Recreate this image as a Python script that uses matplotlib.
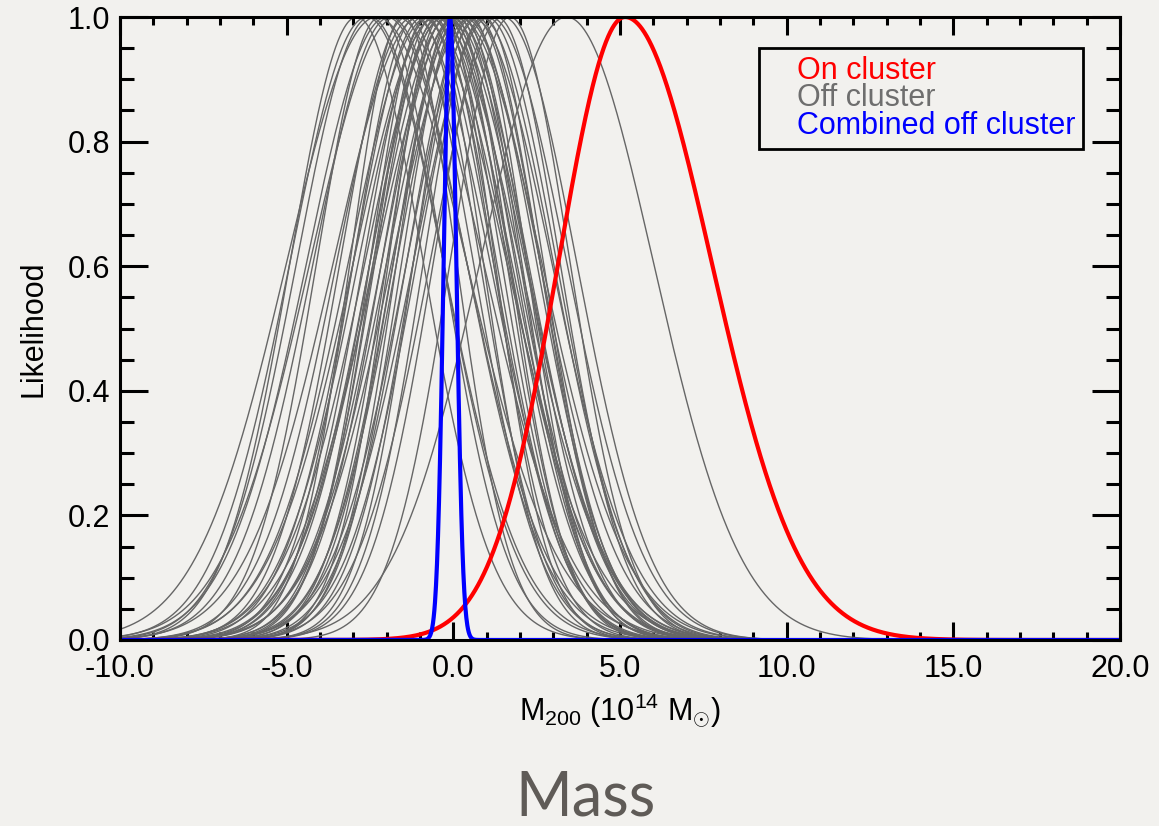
import numpy as np
import matplotlib.pyplot as plt
from matplotlib.lines import Line2D
from matplotlib.ticker import MultipleLocator, FormatStrFormatter

plt.rcParams['font.family'] = ['Liberation Sans', 'DejaVu Sans']
plt.rcParams['mathtext.fontset'] = 'custom'
plt.rcParams['mathtext.rm'] = 'Liberation Sans'
plt.rcParams['mathtext.it'] = 'Liberation Sans:italic'

# Off-cluster likelihoods: peak position and width (10^14 Msun)
off_mean = [-2.3, -2.6, -2.9, -2.5, -2.2, -2.0, -1.9, -1.7, -1.5, -1.4, -1.2, -1.1,
            -1.0, -0.9, -0.8, -0.75, -0.7, -0.6, -0.55, -0.5, -0.45, -0.4, -0.35, -0.3,
            -0.25, -0.2, -0.15, -0.1, 0.0, 0.05, 0.1, 0.15, 0.2, 0.25, 0.3, 0.4,
            0.5, 0.55, 0.6, 0.7, 0.8, 0.9, 1.0, 1.1, 1.3, 1.5, 1.7, 3.4]
off_sigma = [2.7, 2.3, 2.0, 2.2, 1.9, 2.4, 2.3, 2.6, 1.6, 2.0, 2.3, 1.9,
             2.6, 2.1, 1.7, 2.4, 2.0, 1.8, 2.3, 2.5, 1.9, 2.1, 1.6, 2.2,
             2.4, 1.8, 2.0, 2.3, 1.7, 2.2, 1.9, 2.5, 2.0, 1.8, 2.3, 2.1,
             1.7, 2.4, 2.0, 1.9, 2.2, 1.8, 2.1, 2.3, 1.9, 2.2, 1.8, 2.6]

# On-cluster likelihood (slightly skewed) and combined off-cluster likelihood
on_mean = 5.15
on_sigma_left = 2.0
on_sigma_right = 2.6
comb_mean = -0.1
comb_sigma = 0.19

x_range = (-10.0, 20.0)
x_ticks = [-10.0, -5.0, 0.0, 5.0, 10.0, 15.0, 20.0]
legend_labels = ['On cluster', 'Off cluster', 'Combined off cluster']
legend_colors = ['#ff0000', '#6e6e6e', '#0000ff']


def gauss(x, mu, sig):
    return np.exp(-0.5 * ((x - mu) / sig) ** 2)


bg = '#f2f1ee'
fig = plt.figure(figsize=(11.59, 8.26), dpi=100, facecolor=bg)
ax = fig.add_axes([0.1035, 0.2252, 0.8629, 0.7542])
ax.set_facecolor(bg)

x = np.linspace(x_range[0], x_range[1], 3001)

for mu, sig in zip(off_mean, off_sigma):
    ax.plot(x, gauss(x, mu, sig), color='#666666', lw=1.0)

sig_on = np.where(x < on_mean, on_sigma_left, on_sigma_right)
ax.plot(x, gauss(x, on_mean, sig_on), color='#ff0000', lw=3.0)
ax.plot(x, gauss(x, comb_mean, comb_sigma), color='#0000ff', lw=3.0)

ax.set_xlim(*x_range)
ax.set_ylim(0, 1.0)
ax.set_xticks(x_ticks)
ax.xaxis.set_minor_locator(MultipleLocator(1.0))
ax.yaxis.set_major_locator(MultipleLocator(0.2))
ax.yaxis.set_minor_locator(MultipleLocator(0.05))
ax.xaxis.set_major_formatter(FormatStrFormatter('%.1f'))
ax.yaxis.set_major_formatter(FormatStrFormatter('%.1f'))

ax.tick_params(which='both', direction='in', top=True, right=True, width=2.2,
               labelsize=22, colors='black')
ax.tick_params(axis='x', which='major', length=13, pad=10)
ax.tick_params(axis='x', which='minor', length=6)
ax.tick_params(axis='y', which='major', length=20, pad=7)
ax.tick_params(axis='y', which='minor', length=10)
for s in ax.spines.values():
    s.set_linewidth(2.2)

ax.set_xlabel(r'M$_{200}$ (10$^{14}$ M$_{\odot}$)', fontsize=22, labelpad=6)
ax.set_ylabel('Likelihood', fontsize=22, labelpad=14)

handles = [Line2D([], [], lw=0) for _ in legend_labels]
leg = ax.legend(handles, legend_labels, loc='upper right', bbox_to_anchor=(0.963, 0.950),
                borderaxespad=0, fontsize=22, labelcolor=legend_colors,
                handlelength=1.0, handletextpad=0, labelspacing=-0.08,
                borderpad=0.25, fancybox=False, framealpha=1, facecolor=bg,
                edgecolor='black')
leg.get_frame().set_linewidth(2.0)

fig.text(0.505, 0.0, 'Mass', ha='center', va='bottom', fontsize=44,
         color='#5f5b57', family=['Lato', 'DejaVu Sans'])

fig.savefig('out.png', dpi=100, facecolor=bg)
